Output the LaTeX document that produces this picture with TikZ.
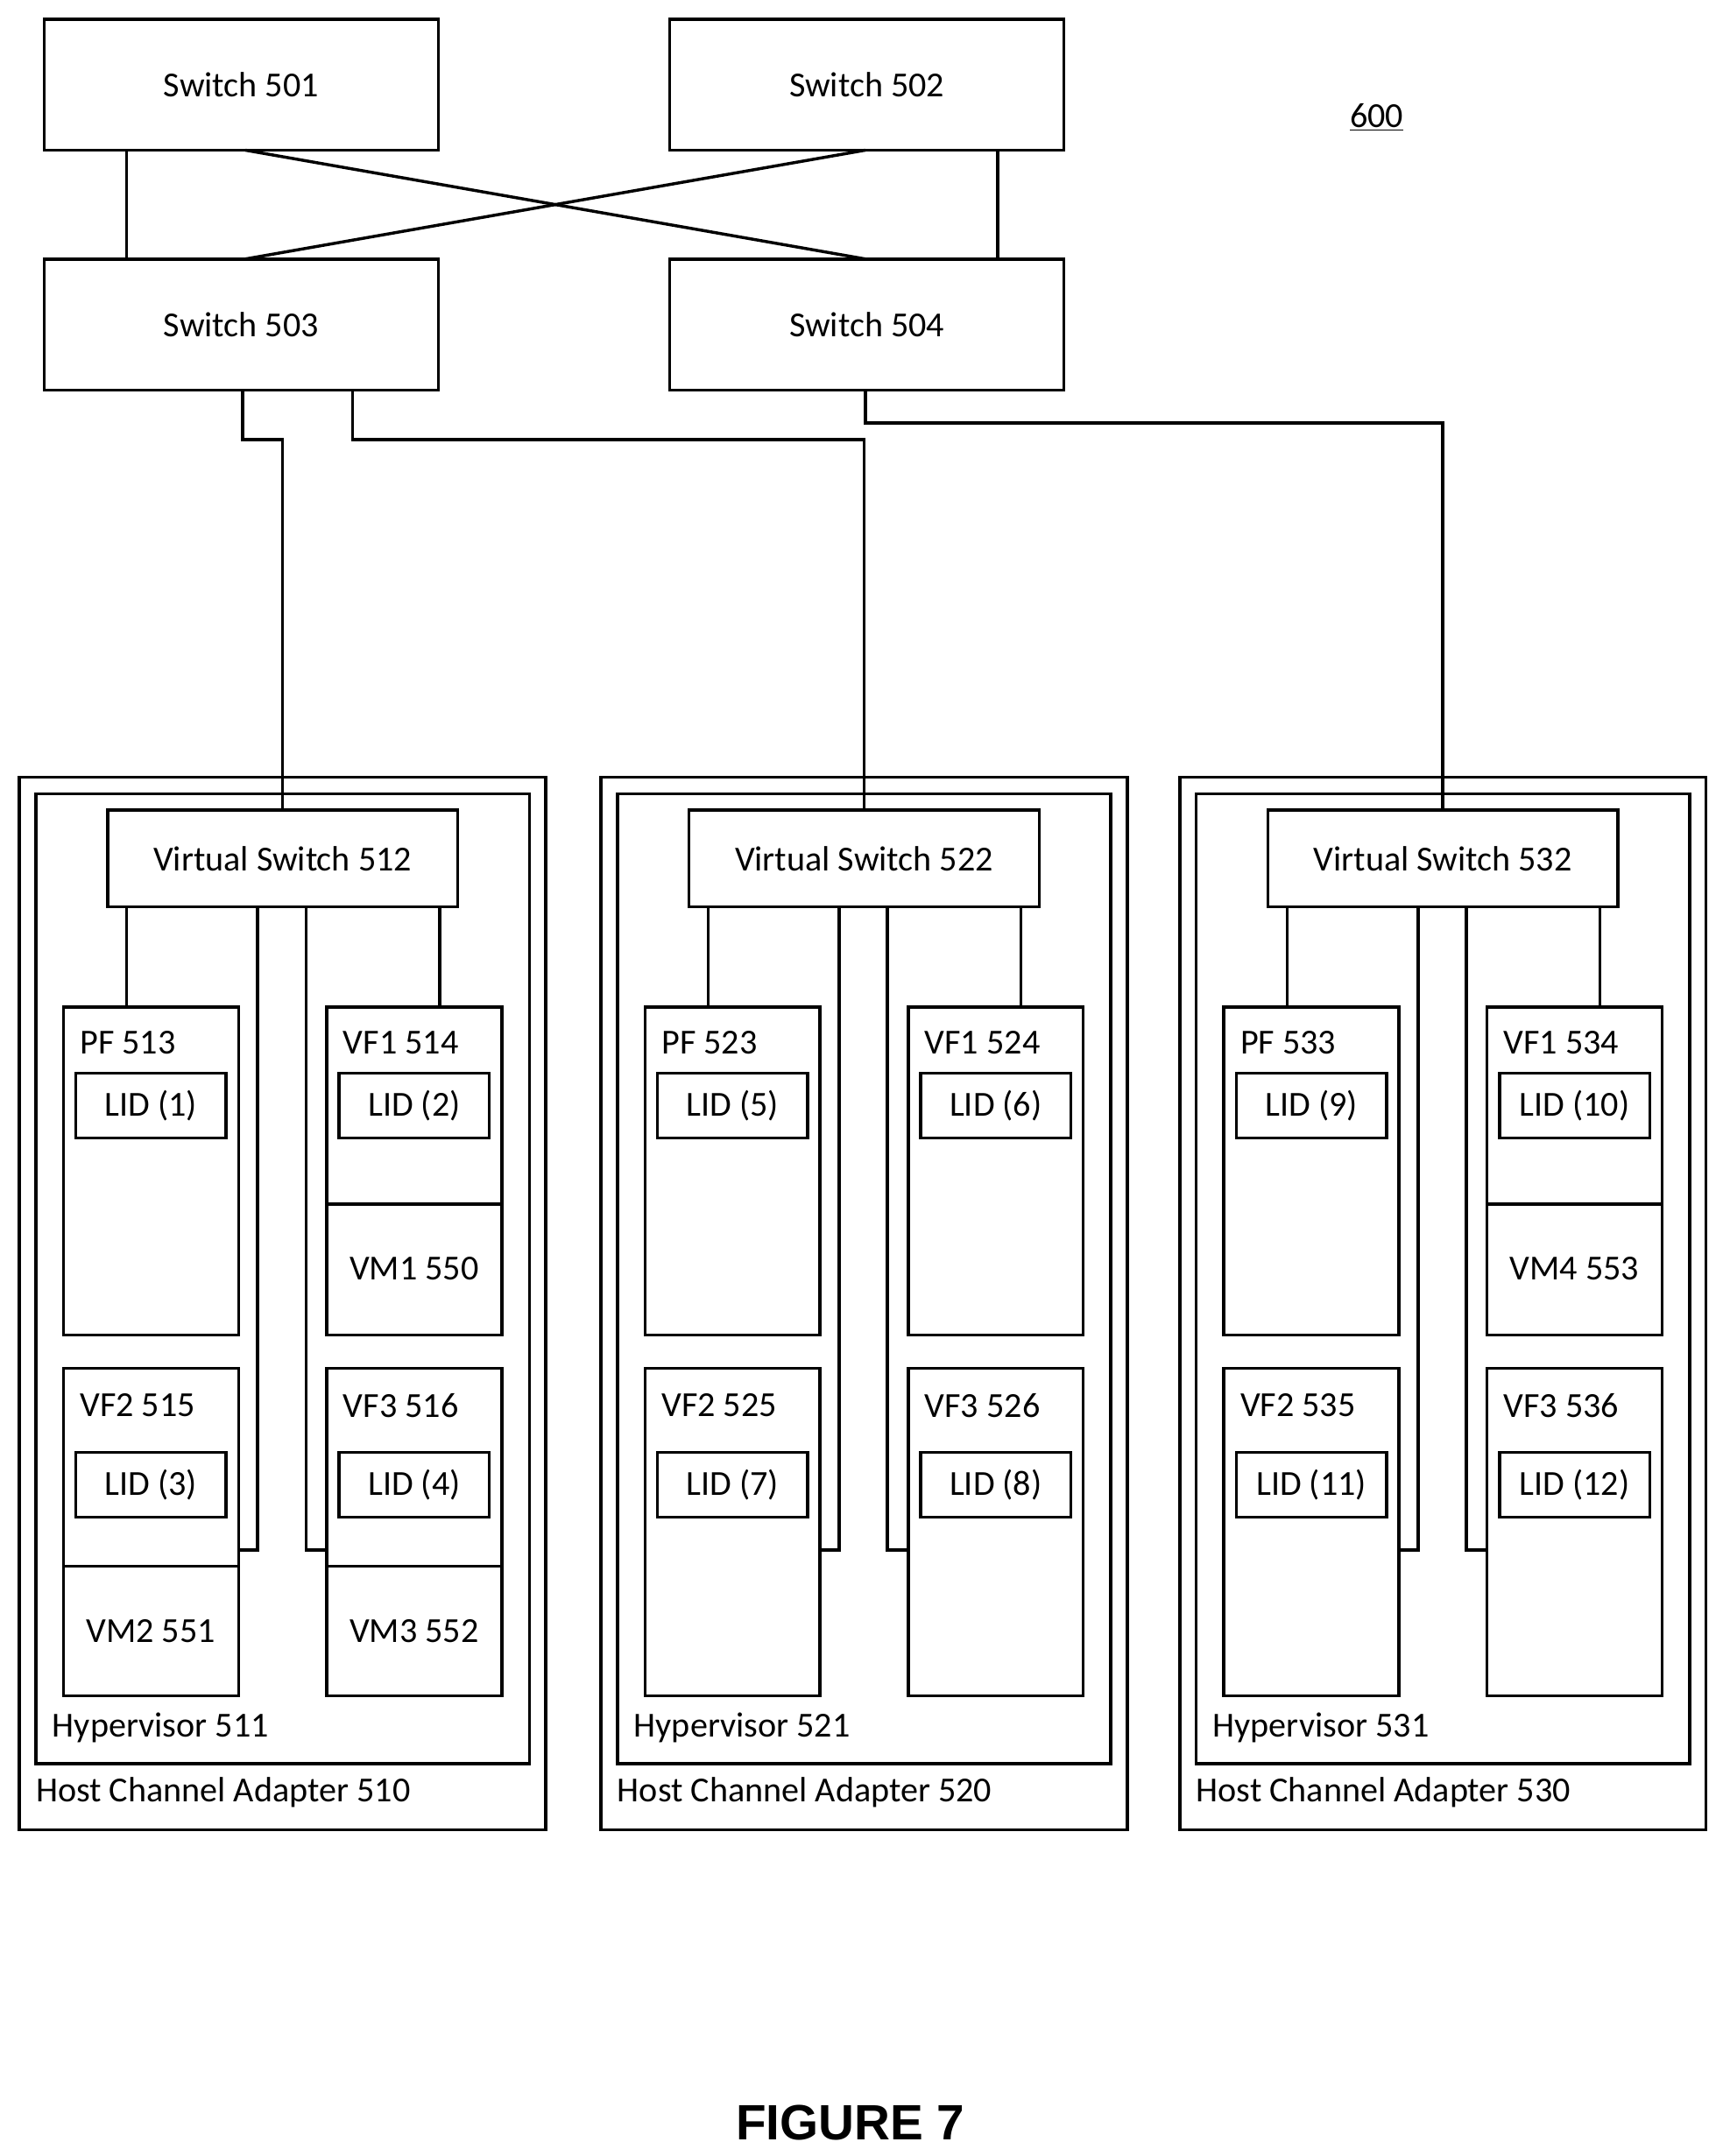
\documentclass[tikz,border=0pt]{standalone}
\usepackage{fontspec}
\setmainfont{Carlito}
\newfontfamily\figfont{Liberation Sans}
\begin{document}
\begin{tikzpicture}[x=1pt,y=-1pt,line width=2.2pt,
  box/.style={draw,inner sep=0pt,anchor=north west},
  lbl/.style={font=\fontsize{25.5}{30}\selectfont,inner sep=0pt},
  wire/.style={line width=2.2pt}]
\path[use as bounding box,fill=white] (0,0) rectangle (1250,1565);
% switches
\node[box,minimum width=286pt,minimum height=95pt] (s501) at (31,13) {};
\node[lbl] at (s501.center) {Switch 501};
\node[box,minimum width=286pt,minimum height=95pt] (s502) at (485,13) {};
\node[lbl] at (s502.center) {Switch 502};
\node[box,minimum width=286pt,minimum height=95pt] (s503) at (31,187) {};
\node[lbl] at (s503.center) {Switch 503};
\node[box,minimum width=286pt,minimum height=95pt] (s504) at (485,187) {};
\node[lbl] at (s504.center) {Switch 504};
\node[lbl] (n600) at (999,85) {\underline{600}};
\draw[wire] (92,109) -- (92,188);
\draw[wire] (724,109) -- (724,188);
\draw[wire] (178,109) -- (628,188);
\draw[wire] (628,109) -- (178,188);
\newcommand\myhca[9]{%
\begin{scope}[xshift=#1pt]
\node[box,minimum width=382pt,minimum height=764pt] (hca#2) at (13,563) {};
\node[box,minimum width=358pt,minimum height=704pt] (hyp#2) at (25,575) {};
\node[lbl,anchor=west] at (37,1254) {Hypervisor 5#21};
\node[lbl,anchor=west] at (25,1301) {Host Channel Adapter 5#20};
\node[box,minimum width=254pt,minimum height=70pt] (vs#2) at (77,587) {};
\node[lbl] at (vs#2.center) {Virtual Switch 5#22};
\node[box,minimum width=127pt,minimum height=238pt] (pf#2) at (45,730) {};
\node[box,minimum width=127pt,minimum height=238pt] (vfa#2) at (236,730) {};
\node[box,minimum width=127pt,minimum height=238pt] (vfb#2) at (45,992) {};
\node[box,minimum width=127pt,minimum height=238pt] (vfc#2) at (236,992) {};
\node[lbl,anchor=west] at (57,757) {PF 5#23};
\node[lbl,anchor=west] at (248,757) {VF1 5#24};
\node[lbl,anchor=west] at (57,1020) {VF2 5#25};
\node[lbl,anchor=west] at (248,1020) {VF3 5#26};
\node[box,minimum width=109pt,minimum height=47pt] (la#2) at (54,778) {};
\node[lbl] at (la#2.center) {LID (#3)};
\node[box,minimum width=109pt,minimum height=47pt] (lb#2) at (245,778) {};
\node[lbl] at (lb#2.center) {LID (#4)};
\node[box,minimum width=109pt,minimum height=47pt] (lc#2) at (54,1053) {};
\node[lbl] at (lc#2.center) {LID (#5)};
\node[box,minimum width=109pt,minimum height=47pt] (ld#2) at (245,1053) {};
\node[lbl] at (ld#2.center) {LID (#6)};
\draw[wire] (92,658) -- (92,731);
\draw[wire] (319,658) -- (319,731);
\draw[wire] (187,658) -- (187,1125) -- (173,1125);
\draw[wire] (222,658) -- (222,1125) -- (237,1125);
#7#8#9
\end{scope}}
\myhca{0}{1}{1}{2}{3}{4}%
{\draw (237,874) -- (364,874); \node[lbl] at (300.5,921) {VM1 550};}%
{\draw (46,1137) -- (173,1137); \node[lbl] at (109.5,1184) {VM2 551};}%
{\draw (237,1137) -- (364,1137); \node[lbl] at (300.5,1184) {VM3 552};}
\myhca{422}{2}{5}{6}{7}{8}{}{}{}
\myhca{842}{3}{9}{10}{11}{12}%
{\draw (237,874) -- (364,874); \node[lbl] at (300.5,921) {VM4 553};}{}{}
% uplinks
\draw[wire] (176,283) -- (176,319) -- (205,319) -- (205,588);
\draw[wire] (256,283) -- (256,319) -- (627,319) -- (627,588);
\draw[wire] (628,283) -- (628,307) -- (1047,307) -- (1047,588);
\node[font=\figfont\bfseries\fontsize{36}{40}\selectfont,inner sep=0pt] (fig) at (617,1541) {FIGURE 7};
\end{tikzpicture}
\end{document}
